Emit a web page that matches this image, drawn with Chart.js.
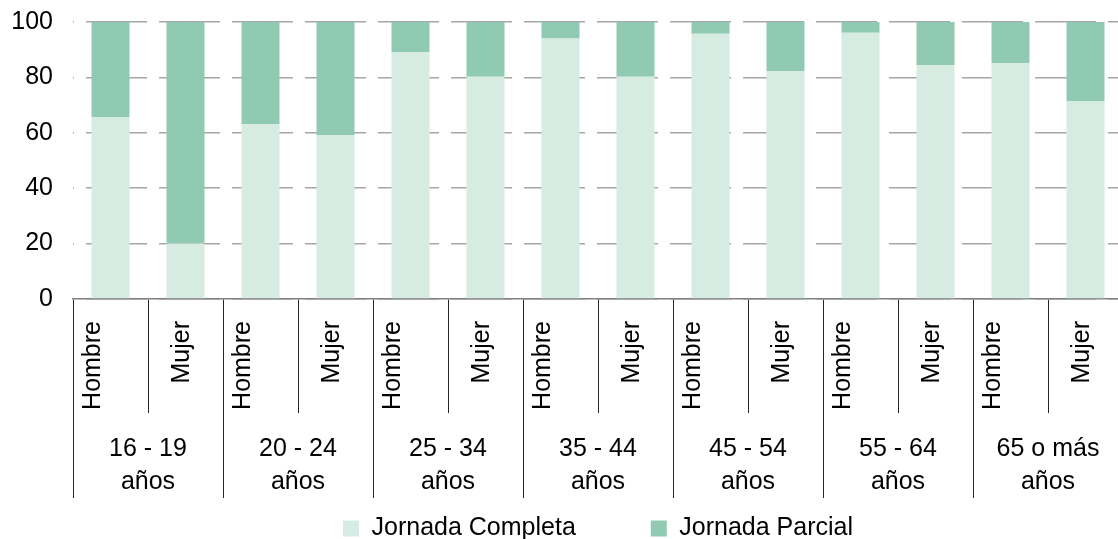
<!DOCTYPE html>
<html>
<head>
<meta charset="utf-8">
<script src="https://cdn.jsdelivr.net/npm/chart.js@4.4.1/dist/chart.umd.min.js"></script>
<style>
html, body { margin: 0; padding: 0; overflow: hidden; background: #fff; width: 1118px; height: 539px; }
#wrap { position: absolute; left: 0; top: 0; width: 1123px; height: 551px; }
</style>
</head>
<body>
<div id="wrap"><canvas id="c"></canvas></div>
<script>
// ---- data ----
const sexLabels = ['Hombre', 'Mujer', 'Hombre', 'Mujer', 'Hombre', 'Mujer', 'Hombre', 'Mujer',
                   'Hombre', 'Mujer', 'Hombre', 'Mujer', 'Hombre', 'Mujer'];
const ageGroups = [['16 - 19', 'años'], ['20 - 24', 'años'], ['25 - 34', 'años'], ['35 - 44', 'años'],
                   ['45 - 54', 'años'], ['55 - 64', 'años'], ['65 o más', 'años']];
const jornadaCompleta = [65.7, 20.0, 63.1, 59.2, 89.2, 80.2, 94.0, 80.2, 95.8, 82.3, 96.1, 84.5, 85.2, 71.5];
const jornadaParcial  = [34.3, 80.0, 36.9, 40.8, 10.8, 19.8, 6.0, 19.8, 4.2, 17.7, 3.9, 15.5, 14.8, 28.5];
const yTickValues = [0, 20, 40, 60, 80, 100];
const seriesNames = ['Jornada Completa', 'Jornada Parcial'];

// ---- chart ----
const FONT = '"Liberation Sans", Arial, sans-serif';
Chart.defaults.font.family = FONT;
Chart.defaults.font.size = 25;
Chart.defaults.color = '#000';

// let the two-line group labels of the second category axis extend below its fitted box
const groupLabelArea = {
  id: 'groupLabelArea',
  afterLayout(chart) {
    const s = chart.scales.x2;
    if (s) { s.bottom = chart.height; }
  }
};

new Chart(document.getElementById('c'), {
  type: 'bar',
  plugins: [groupLabelArea],
  data: {
    labels: sexLabels,
    datasets: [
      { label: seriesNames[0], data: jornadaCompleta, backgroundColor: '#d6ece2', borderWidth: 0,
        categoryPercentage: 1, barPercentage: 0.507 },
      { label: seriesNames[1], data: jornadaParcial, backgroundColor: '#90cab2', borderWidth: 0,
        categoryPercentage: 1, barPercentage: 0.507 }
    ]
  },
  options: {
    responsive: true,
    maintainAspectRatio: false,
    devicePixelRatio: 1,
    animation: false,
    layout: { padding: { top: 22, left: 0, right: 0, bottom: 0 } },
    plugins: {
      tooltip: { enabled: false },
      legend: {
        position: 'bottom',
        fullSize: false,
        labels: { boxWidth: 16, boxHeight: 16, padding: 75, font: { size: 25, family: FONT }, color: '#000' }
      }
    },
    scales: {
      x: {
        type: 'category',
        stacked: true,
        offset: true,
        weight: 0,
        grid: { display: true, offset: true, drawOnChartArea: false, drawTicks: true, tickLength: 114,
                color: '#262626', tickColor: '#262626', lineWidth: 1, tickWidth: 1 },
        border: { display: true, color: '#808080', width: 1.5 },
        ticks: {
          autoSkip: false, minRotation: 90, maxRotation: 90, padding: -92, labelOffset: -17.5,
          color: '#000',
          font: (ctx) => ({ family: FONT, size: 25, lineHeight: (ctx.index % 2) ? '14.5px' : 1.2 }),
          callback: function (value) {
            const lbl = this.getLabelForValue(value);
            return lbl === 'Mujer' ? ['', lbl] : lbl;
          }
        },
        afterFit: (s) => { s.height = 114; }
      },
      x2: {
        type: 'category',
        axis: 'x',
        position: 'bottom',
        labels: ageGroups,
        offset: true,
        weight: 1,
        grid: { display: true, offset: true, drawOnChartArea: false, drawTicks: true, tickLength: 85,
                color: '#262626', tickColor: '#262626', lineWidth: 1, tickWidth: 1 },
        border: { display: false },
        ticks: { autoSkip: false, maxRotation: 0, minRotation: 0, padding: -65.5, color: '#000',
                 font: { family: FONT, size: 25, lineHeight: '33px' } },
        afterFit: (s) => { s.height = 28; }
      },
      y: {
        stacked: true,
        min: 0,
        max: 100,
        grid: { color: '#a6a6a6', lineWidth: 1.5, drawTicks: false },
        border: { display: false, dash: [61, 12], dashOffset: 60 },
        ticks: { stepSize: 20, padding: 20, color: '#000', font: { family: FONT, size: 25 } },
        afterBuildTicks: (s) => { s.ticks = yTickValues.map(v => ({ value: v })); },
        afterFit: (s) => { s.width = 73; s.paddingTop = 0; s.paddingBottom = 0; }
      }
    }
  }
});
</script>
</body>
</html>
